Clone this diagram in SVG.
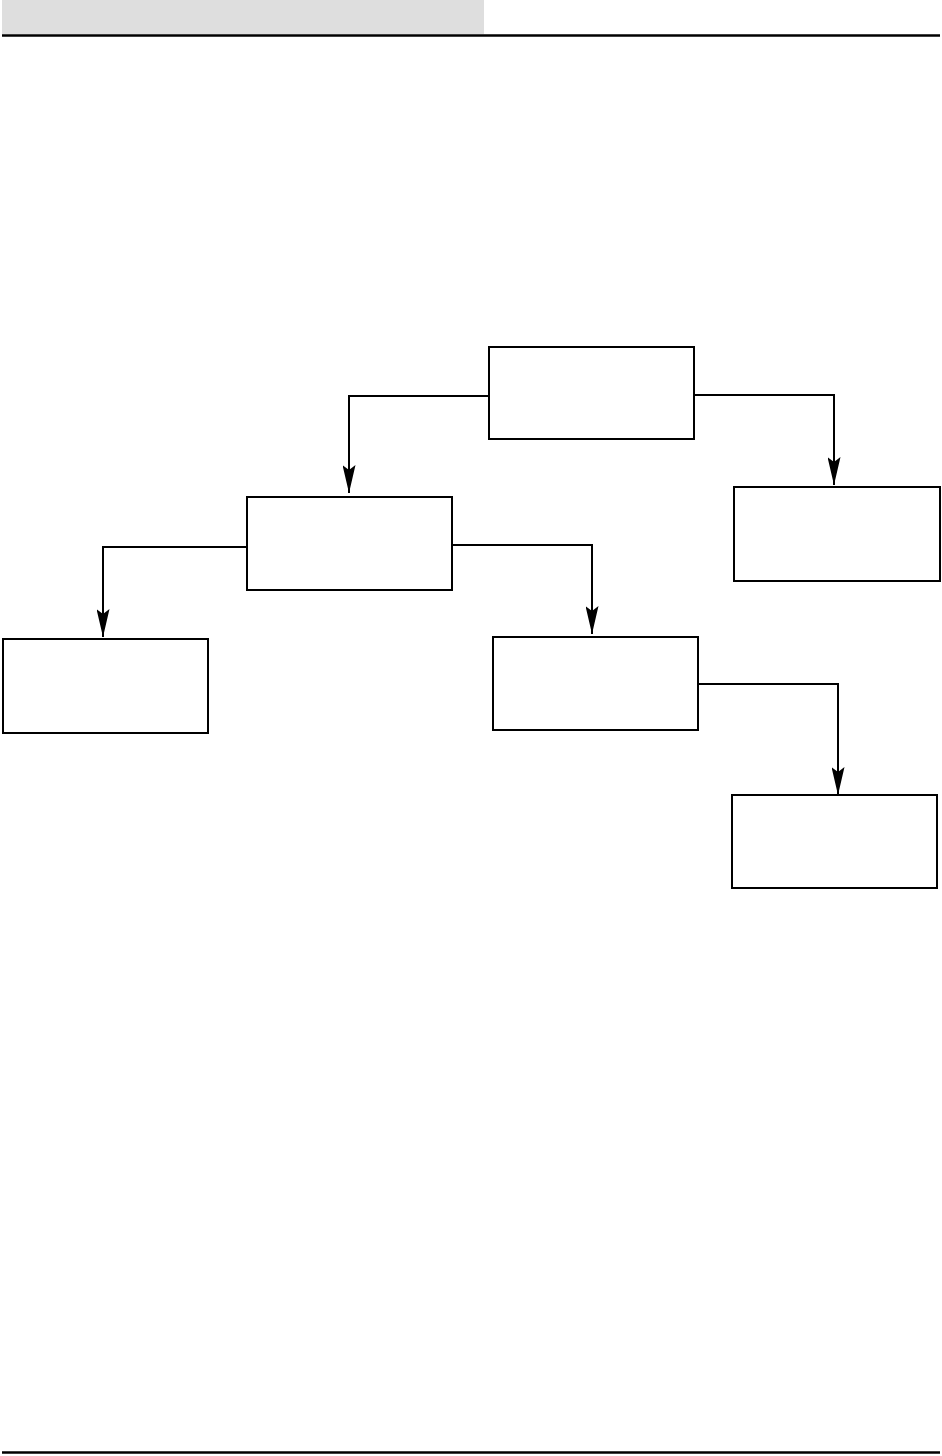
<svg xmlns="http://www.w3.org/2000/svg" width="942" height="1456" viewBox="0 0 942 1456">
<style>
.node rect{fill:#fff;stroke:#000;stroke-width:2}
.conn path{fill:none;stroke:#000;stroke-width:2}
.rule{stroke:#000;stroke-width:2.6}
</style>
<defs>
<marker id="arr" markerUnits="userSpaceOnUse" markerWidth="28" markerHeight="13" refX="28" refY="6.5" orient="auto" viewBox="0 0 28 13">
<path d="M0,0 L28,6.5 L0,13 L5,6.5 Z" fill="#000"/>
</marker>
</defs>
<rect x="2" y="0" width="482" height="34" fill="#dedede"/>
<line class="rule" x1="2" y1="35.5" x2="940" y2="35.5"/>
<line class="rule" x1="2" y1="1452.5" x2="940" y2="1452.5"/>
<g id="connectors" class="conn">
<path d="M489,396 H349 V493" marker-end="url(#arr)"/>
<path d="M694,395 H834 V485" marker-end="url(#arr)"/>
<path d="M247,547 H103 V637" marker-end="url(#arr)"/>
<path d="M452,545 H592 V634" marker-end="url(#arr)"/>
<path d="M698,684 H838 V795" marker-end="url(#arr)"/>
</g>
<g id="n1" class="node"><rect x="489" y="347" width="205" height="92"/></g>
<g id="n2" class="node"><rect x="247" y="497" width="205" height="93"/></g>
<g id="n3" class="node"><rect x="734" y="487" width="206" height="94"/></g>
<g id="n4" class="node"><rect x="3" y="639" width="205" height="94"/></g>
<g id="n5" class="node"><rect x="493" y="637" width="205" height="93"/></g>
<g id="n6" class="node"><rect x="732" y="795" width="205" height="93"/></g>
</svg>
